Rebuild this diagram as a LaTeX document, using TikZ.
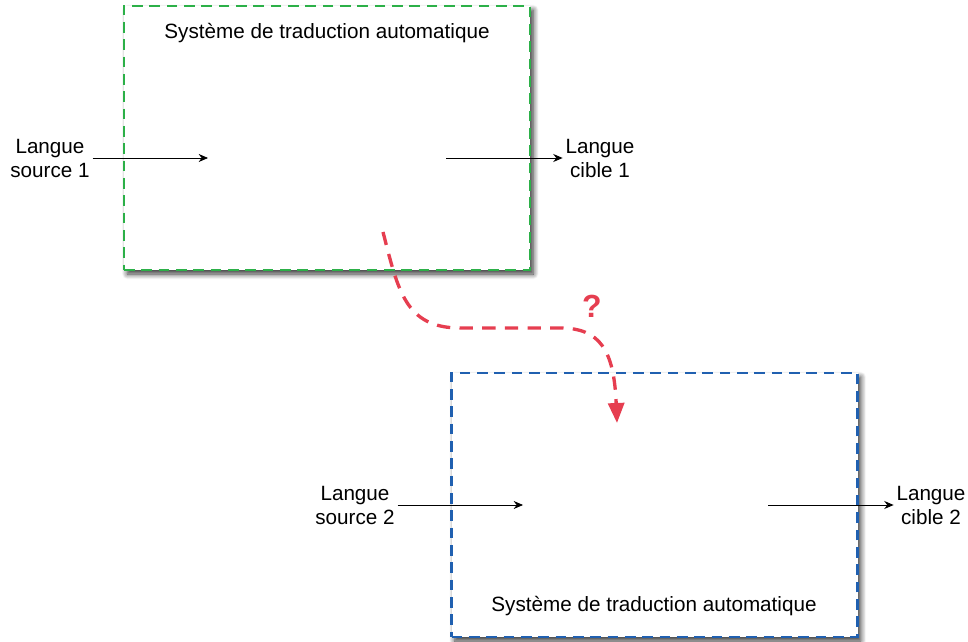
\documentclass[tikz,border=0pt]{standalone}
\usepackage{fontspec}
\setmainfont{Liberation Sans}
\usetikzlibrary{arrows.meta, positioning, shadows.blur}
\definecolor{sysgreen}{RGB}{44, 176, 72}
\definecolor{sysblue}{RGB}{32, 96, 176}
\definecolor{askred}{RGB}{230, 62, 80}

\begin{document}
\begin{tikzpicture}[x=0.75pt, y=-0.75pt,
  sysbox/.style={draw, line width=1.6pt, dash pattern=on 8pt off 5pt, fill=white,
    minimum width=304.5pt, minimum height=198pt,
    blur shadow={shadow xshift=2.5pt, shadow yshift=-3pt, shadow blur radius=4pt,
      shadow blur steps=8, shadow opacity=80}},
  lang/.style={font=\fontsize{15.5}{18}\selectfont, align=center, inner sep=2pt},
  flow/.style={-{Stealth[length=7pt, width=6pt]}, line width=0.6pt}]
  \useasboundingbox (0,0) rectangle (968,642);

  % the two systems
  \node[sysbox, draw=sysgreen] (sys1) at (327,138) {};
  \node[sysbox, draw=sysblue] (sys2) at (654.5,505) {};
  \node[lang] (title1) at (327,33) {Système de traduction automatique};
  \node[lang] (title2) at (654,606) {Système de traduction automatique};

  % inputs and outputs
  \node[lang] (src1) at (50,158) {Langue\\source 1};
  \node[lang] (tgt1) at (600,158) {Langue\\cible 1};
  \node[lang] (src2) at (355,505) {Langue\\source 2};
  \node[lang] (tgt2) at (931,505) {Langue\\cible 2};
  \coordinate (in1) at (208,158);
  \coordinate (out1) at (446,158);
  \coordinate (in2) at (523,505);
  \coordinate (out2) at (768,505);
  \draw[flow] (src1) -- (in1);
  \draw[flow] (out1) -- (tgt1);
  \draw[flow] (src2) -- (in2);
  \draw[flow] (out2) -- (tgt2);

  % transfer ?
  \coordinate (from) at (383,232);
  \coordinate (to) at (617,423);
  \draw[askred, line width=2.5pt, dash pattern=on 10pt off 7pt,
    -{Triangle[length=15pt, width=12pt]}]
    (from) .. controls (398,290) and (405,328) .. (460,328)
    -- (560,328) .. controls (600,328) and (614,350) .. (to);
  \node[askred, font=\fontsize{24}{24}\selectfont\bfseries] (ask) at (592,306) {?};
\end{tikzpicture}
\end{document}
